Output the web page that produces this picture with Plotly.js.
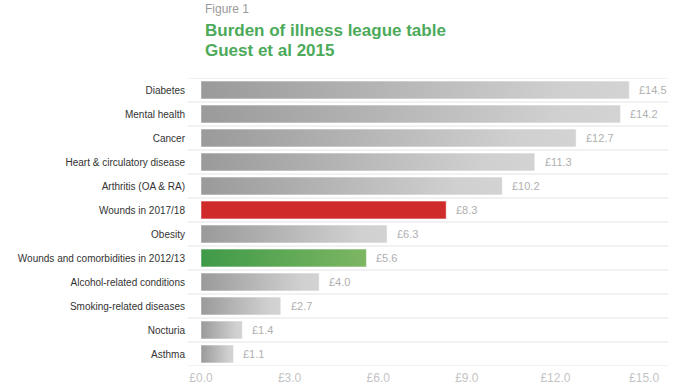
<!DOCTYPE html>
<html>
<head>
<meta charset="utf-8">
<script src="https://cdn.plot.ly/plotly-3.0.1.min.js"></script>
<style>
  html, body { margin: 0; padding: 0; background: #fff; }
  #chart { width: 696px; height: 385px; }
</style>
</head>
<body>
<div id="chart"></div>
<script>
// ---- Data ----
const categories = [
  "Diabetes",
  "Mental health",
  "Cancer",
  "Heart & circulatory disease",
  "Arthritis (OA & RA)",
  "Wounds in 2017/18",
  "Obesity",
  "Wounds and comorbidities in 2012/13",
  "Alcohol-related conditions",
  "Smoking-related diseases",
  "Nocturia",
  "Asthma"
];
const values = [14.5, 14.2, 12.7, 11.3, 10.2, 8.3, 6.3, 5.6, 4.0, 2.7, 1.4, 1.1];
const valueLabels = ["£14.5", "£14.2", "£12.7", "£11.3", "£10.2", "£8.3", "£6.3", "£5.6", "£4.0", "£2.7", "£1.4", "£1.1"];
const xTickVals = [0, 3, 6, 9, 12, 15];
const xTickText = ["£0.0", "£3.0", "£6.0", "£9.0", "£12.0", "£15.0"];
const titleLines = ["Burden of illness league table", "Guest et al 2015"];
const figureLabel = "Figure 1";

// ---- Styles ----
const FONT = "Liberation Sans, Arial, sans-serif";
const greyScale = [[0, "#9a9a9a"], [0.85, "#d0d0d0"], [1, "#d3d3d3"]];
const greenScale = [[0, "#3f9a48"], [1, "#7db663"]];
const redScale = [[0, "#d02b2b"], [1, "#d02b2b"]];
function scaleFor(cat) {
  if (cat === "Wounds in 2017/18") return redScale;
  if (cat === "Wounds and comorbidities in 2012/13") return greenScale;
  return greyScale;
}
const halfBar = 0.37;

const traces = categories.map((cat, i) => {
  const v = values[i];
  return {
    type: "scatter",
    mode: "lines",
    x: [0, v, v, 0, 0],
    y: [i - halfBar, i - halfBar, i + halfBar, i + halfBar, i - halfBar],
    fill: "toself",
    fillgradient: { type: "horizontal", colorscale: scaleFor(cat), start: 0, stop: v },
    line: { width: 0.8, color: "rgba(255,255,255,0.6)" },
    hoverinfo: "text",
    text: cat + ": " + valueLabels[i],
    showlegend: false
  };
});

const shapes = [];
for (let k = 0; k <= categories.length; k++) {
  shapes.push({
    type: "line", xref: "paper", yref: "y",
    x0: 0, x1: 1, y0: k - 0.5, y1: k - 0.5,
    line: { color: "#e4e4e4", width: 1 },
    layer: "below"
  });
}

const annotations = categories.map((cat, i) => ({
  x: values[i], y: i, xref: "x", yref: "y",
  text: valueLabels[i], showarrow: false,
  xanchor: "left", xshift: 8,
  font: { family: FONT, size: 11, color: "#afafaf" }
}));
const titleX = (203 - 188) / 480;
annotations.push({
  xref: "paper", yref: "paper", x: titleX, y: 1,
  yshift: 69, xanchor: "left", yanchor: "middle",
  text: figureLabel, showarrow: false,
  font: { family: FONT, size: 12, color: "#9a9a9a" }
});
titleLines.forEach((t, j) => {
  annotations.push({
    xref: "paper", yref: "paper", x: titleX, y: 1,
    yshift: 48 - 20 * j, xanchor: "left", yanchor: "middle",
    text: "<b>" + t + "</b>", showarrow: false,
    font: { family: FONT, size: 17, color: "#4caa5a" }
  });
});

const layout = {
  width: 696, height: 385,
  margin: { l: 188, r: 28, t: 78, b: 19 },
  paper_bgcolor: "#ffffff",
  plot_bgcolor: "#ffffff",
  font: { family: FONT, color: "#333" },
  xaxis: {
    range: [-0.44, 15.81],
    tickvals: xTickVals, ticktext: xTickText,
    showgrid: false, zeroline: false, showline: false,
    ticks: "", automargin: false, ticklabelstandoff: 3,
    tickfont: { family: FONT, size: 12, color: "#c4c4c4" }
  },
  yaxis: {
    range: [categories.length - 0.5, -0.5],
    tickvals: categories.map((c, i) => i), ticktext: categories,
    showgrid: false, zeroline: false, showline: false,
    ticks: "", automargin: false, ticklabelstandoff: 2,
    tickfont: { family: FONT, size: 10, color: "#333" }
  },
  shapes: shapes,
  annotations: annotations
};

Plotly.newPlot("chart", traces, layout, { displayModeBar: false, staticPlot: true });
</script>
</body>
</html>
